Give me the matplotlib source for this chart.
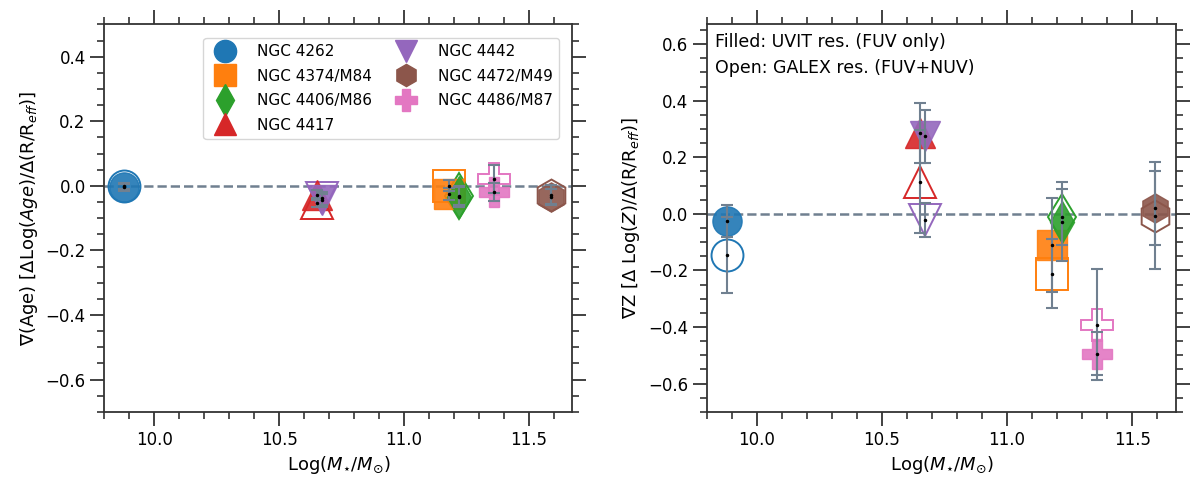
import numpy as np
import matplotlib.pyplot as plt
import matplotlib.ticker as ticker
from matplotlib.lines import Line2D

# galaxies, stellar masses and gradients
names = ['NGC 4262', 'NGC 4374/M84', 'NGC 4406/M86', 'NGC 4417',
         'NGC 4442', 'NGC 4472/M49', 'NGC 4486/M87']
mass = [9.88, 11.18, 11.22, 10.65, 10.67, 11.59, 11.36]

# age gradient, UVIT (filled) and GALEX (open)
age_uvit = [-0.005, -0.026, -0.034, -0.028, -0.045, -0.034, -0.020]
age_uvit_err = [0.012, 0.018, 0.030, 0.015, 0.020, 0.023, 0.028]
age_galex = [0.000, 0.000, -0.030, -0.052, -0.038, -0.028, 0.021]
age_galex_err = [0.010, 0.017, 0.030, 0.015, 0.020, 0.030, 0.044]

# metallicity gradient
z_uvit = [-0.026, -0.110, -0.027, 0.287, 0.274, 0.021, -0.494]
z_uvit_err = [0.057, 0.167, 0.141, 0.106, 0.095, 0.130, 0.077]
z_galex = [-0.145, -0.211, -0.012, 0.114, -0.022, -0.006, -0.392]
z_galex_err = [0.134, 0.123, 0.099, 0.181, 0.059, 0.190, 0.196]

markers = ['o', 's', 'd', '^', 'v', 'h', 'P']
colors = ['C0', 'C1', 'C2', 'C3', 'C4', 'C5', 'C6']
ebar_col = '#708090'

plt.rcParams['font.family'] = 'DejaVu Sans'

fig = plt.figure(figsize=(12, 4.88), dpi=100)
ax1 = fig.add_axes([0.087, 0.156, 0.390, 0.794])
ax2 = fig.add_axes([0.589, 0.156, 0.391, 0.794])


def draw(ax, filled, filled_err, opened, opened_err):
    for i in range(len(names)):
        # open markers (GALEX)
        ax.plot(mass[i], opened[i], marker=markers[i], ms=23, mfc='none',
                mec=colors[i], mew=1.4, ls='', zorder=2)
        # filled markers (UVIT)
        ax.plot(mass[i], filled[i], marker=markers[i], ms=21, color=colors[i],
                alpha=0.9, ls='', zorder=3)
        ax.errorbar(mass[i], opened[i], yerr=opened_err[i], fmt='none',
                    ecolor=ebar_col, elinewidth=1.5, capsize=4, capthick=1.5, zorder=4)
        ax.errorbar(mass[i], filled[i], yerr=filled_err[i], fmt='none',
                    ecolor=ebar_col, elinewidth=1.5, capsize=4, capthick=1.5, zorder=4)
        ax.plot([mass[i], mass[i]], [filled[i], opened[i]], 'k.', ms=3, ls='', zorder=5)
    ax.axhline(0, color=ebar_col, ls='--', lw=1.8, zorder=1)

    ax.set_xlim(9.8, 11.675)
    ax.xaxis.set_major_locator(ticker.MultipleLocator(0.5))
    ax.xaxis.set_minor_locator(ticker.MultipleLocator(0.1))
    ax.yaxis.set_major_locator(ticker.MultipleLocator(0.2))
    ax.yaxis.set_minor_locator(ticker.MultipleLocator(0.05))
    ax.tick_params(which='both', direction='out', top=True, right=True,
                   labelsize=12, color='0.2')
    ax.tick_params(which='major', length=10, width=1.3)
    ax.tick_params(which='minor', length=5, width=1.2)
    for sp in ax.spines.values():
        sp.set_linewidth(1.3)
        sp.set_color('0.2')
    ax.set_xlabel(r'Log($M_{\star}/M_{\odot}$)', fontsize=13)


draw(ax1, age_uvit, age_uvit_err, age_galex, age_galex_err)
ax1.set_ylim(-0.7, 0.5)
ax1.set_ylabel(r'$\nabla$(Age) [$\Delta$Log($Age$)/$\Delta$(R/R$_{eff}$)]', fontsize=13)

handles = [Line2D([], [], marker=markers[i], color=colors[i], ls='', ms=16)
           for i in range(len(names))]
ax1.legend(handles, names, ncol=2, loc='upper right', fontsize=11,
           handletextpad=1.1, columnspacing=1.2, labelspacing=0.62,
           borderaxespad=0.9)

draw(ax2, z_uvit, z_uvit_err, z_galex, z_galex_err)
ax2.set_ylim(-0.7, 0.67)
ax2.set_ylabel(r'$\nabla$Z [$\Delta$ Log($Z$)/$\Delta$(R/R$_{eff}$)]', fontsize=13)
ax2.text(0.018, 0.978, 'Filled: UVIT res. (FUV only)', transform=ax2.transAxes,
         fontsize=12.5, va='top', ha='left')
ax2.text(0.018, 0.91, 'Open: GALEX res. (FUV+NUV)', transform=ax2.transAxes,
         fontsize=12.5, va='top', ha='left')

fig.savefig('out.png', dpi=100)
